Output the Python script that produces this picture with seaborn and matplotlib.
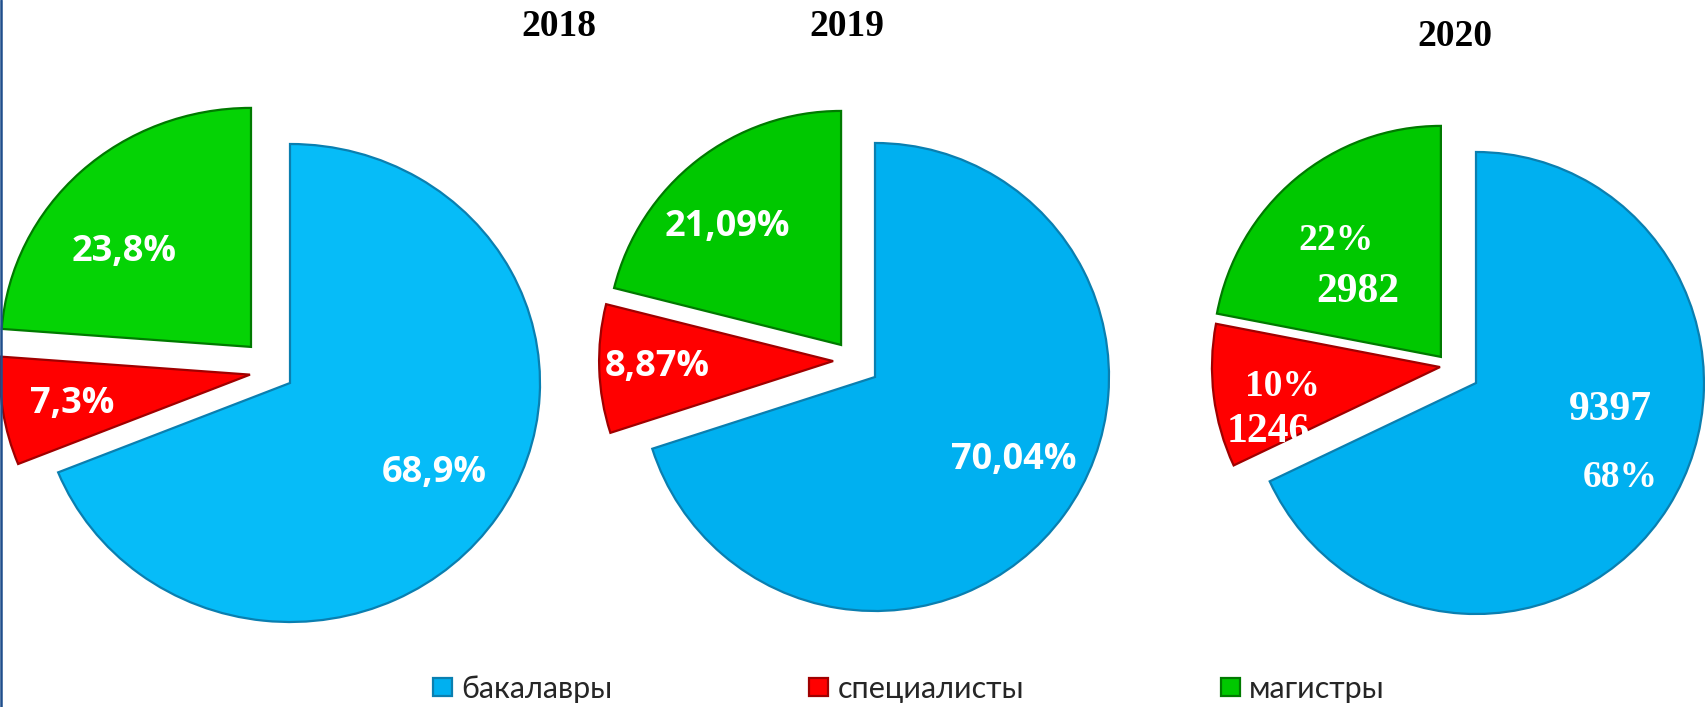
import matplotlib
matplotlib.use('Agg')
import matplotlib.pyplot as plt
import numpy as np
import seaborn as sns

# data
years = ['2018', '2019', '2020']
groups = ['бакалавры', 'специалисты', 'магистры']
shares_2018 = [68.9, 7.3, 23.8]
shares_2019 = [70.04, 8.87, 21.09]
shares_2020 = [68, 10, 22]
counts_2020 = [9397, 1246, 2982]
shares = [shares_2018, shares_2019, shares_2020]

year_colors = [
    ['#06BCF8', '#FF0000', '#05D305'],
    ['#00B0F0', '#FF0000', '#00C800'],
    ['#00B0F0', '#FF0000', '#00C800'],
]
edge_colors = ['#0A7FB0', '#A00000', '#007A00']

sns.set_style('white')
plt.rcParams['font.family'] = ['DejaVu Sans']

W, H = 1705, 707

# layout of each pie in figure pixels (y from top); offsets of the pulled-out
# slices in radius units; label placement as (angle shift, distance)
layout = [
    dict(cx=290, cy=383, rx=250, ry=239,
         shift=[(0, 0), (-0.16, 0.035), (-0.156, 0.151)],
         pct_pos=[(1.0, 0.69), (1.0, 0.72), (9.2, 0.645)]),
    dict(cx=875, cy=377, rx=234, ry=234,
         shift=[(0, 0), (-0.179, 0.068), (-0.145, 0.137)],
         pct_pos=[(5, 0.69), (0, 0.753), (6, 0.70)]),
    dict(cx=1476, cy=383, rx=228, ry=231,
         shift=[(0, 0), (-0.158, 0.069), (-0.154, 0.113)],
         pct_pos=[(-0.6, 0.754), (-0.1, 0.698), (2.7, 0.684)],
         cnt_pos=[(21.1, 0.60), (13.2, 0.805), (12.7, 0.46)]),
]
title_pos = [(559, 26), (847, 26), (1455, 37)]


def fmt_pct(v):
    return f'{v:g}'.replace('.', ',') + '%'


fig = plt.figure(figsize=(W / 100, H / 100), dpi=100)
fig.patch.set_facecolor('white')

legend_wedges = None
for i, year in enumerate(years):
    lay = layout[i]
    ax = fig.add_axes([0, 0, 1, 1])
    wedges, _ = ax.pie(shares[i], colors=year_colors[i], startangle=90,
                       counterclock=False, radius=1, center=(0, 0),
                       wedgeprops=dict(linewidth=1.6))
    for w, ec, (ox, oy) in zip(wedges, edge_colors, lay['shift']):
        w.set_edgecolor(ec)
        w.set_center((ox, oy))
    ax.set_aspect('auto')
    cx, cy, rx, ry = lay['cx'], lay['cy'], lay['rx'], lay['ry']
    ax.set_xlim(-cx / rx, (W - cx) / rx)
    ax.set_ylim(-(H - cy) / ry, cy / ry)
    ax.set_axis_off()
    if i == 1:
        legend_wedges = wedges

    for j, w in enumerate(wedges):
        mid = (w.theta1 + w.theta2) / 2
        x0, y0 = w.center
        dth, d = lay['pct_pos'][j]
        a = np.deg2rad(mid + dth)
        if year == '2020':
            t = ax.text(x0 + d * np.cos(a), y0 + d * np.sin(a), fmt_pct(shares[i][j]),
                        ha='center', va='center', color='white', fontsize=27,
                        family='Liberation Serif', weight='bold')
            t.set_clip_path(w)
            dth2, d2 = lay['cnt_pos'][j]
            a2 = np.deg2rad(mid + dth2)
            t2 = ax.text(x0 + d2 * np.cos(a2), y0 + d2 * np.sin(a2), str(counts_2020[j]),
                         ha='center', va='center', color='white', fontsize=30,
                         family='Liberation Serif', weight='bold')
            t2.set_clip_path(w)
        else:
            t = ax.text(x0 + d * np.cos(a), y0 + d * np.sin(a), fmt_pct(shares[i][j]),
                        ha='center', va='center', color='white', fontsize=26,
                        family='Open Sans', weight='bold')
            t.set_clip_path(w)

    tx, ty = title_pos[i]
    fig.text(tx / W, 1 - ty / H, year, ha='center', va='center', fontsize=27,
             family='Liberation Serif', weight='bold', color='black')

fig.legend(legend_wedges, groups, loc='center left',
           bbox_to_anchor=(433 / W, 1 - 689 / H), ncol=3, frameon=False,
           prop={'family': 'Lato', 'size': 22}, handlelength=0.62,
           handleheight=0.52, handletextpad=0.3, columnspacing=6.45,
           borderpad=0, borderaxespad=0)

# thin blue border on the left edge
fig.add_artist(plt.Line2D([1 / W, 1 / W], [0, 1], color='#1F4E8C', lw=1.8,
                          transform=fig.transFigure))

fig.savefig('out.png', dpi=100, facecolor='white')
